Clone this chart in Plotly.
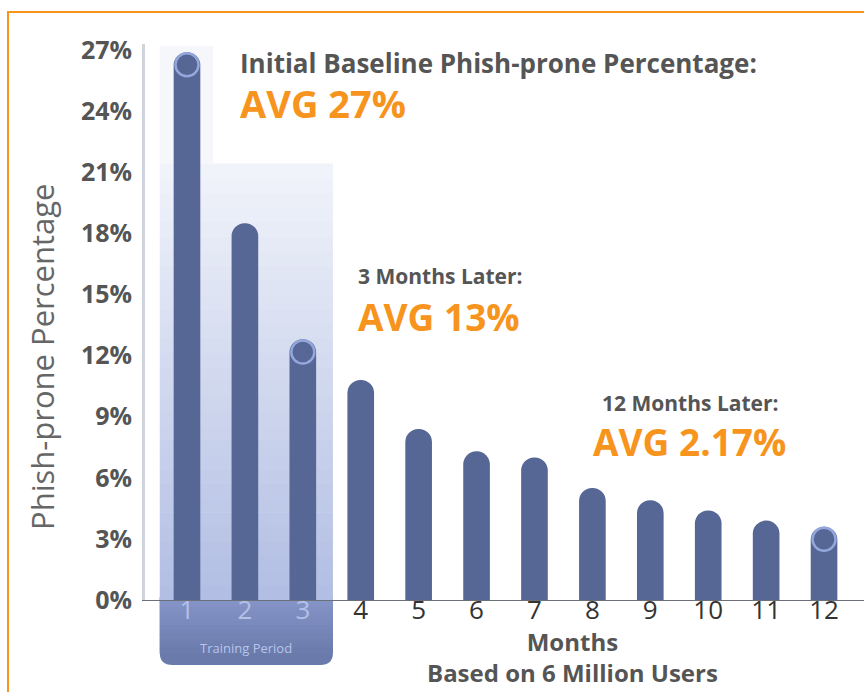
import plotly.graph_objects as go

months = list(range(1, 13))
month_labels = [str(m) for m in months]
phish_prone = [26.9, 18.5, 12.8, 10.8, 8.4, 7.3, 7.0, 5.5, 4.9, 4.4, 3.9, 3.6]
highlight_months = [1, 3, 12]
y_ticks = [0, 3, 6, 9, 12, 15, 18, 21, 24, 27]
y_tick_labels = [f"{v}%" for v in y_ticks]
training_months = [1, 2, 3]

BAR = "rgb(86,102,149)"
ORANGE = "#f7941d"
GRAY = "#555555"
FONT = "Open Sans"

W, H = 864, 692
L, R, T, B = 145, 0, 44, 92
PW, PH = W - L - R, H - T - B


def xp(px):
    return (px - L) / PW


def yp(py):
    return (H - B - py) / PH


def lerp(c0, c1, t):
    return "rgb(%d,%d,%d)" % tuple(round(a + (b - a) * t) for a, b in zip(c0, c1))


fig = go.Figure()

fig.add_trace(go.Bar(
    x=months, y=phish_prone, width=0.46,
    marker=dict(color=BAR, cornerradius="50%", line=dict(width=0)),
    hoverinfo="skip", showlegend=False,
))

hl_y = [phish_prone[m - 1] - 0.62 for m in highlight_months]
fig.add_trace(go.Scatter(
    x=highlight_months, y=hl_y, mode="markers",
    marker=dict(size=23, color=BAR, line=dict(color="#93a7dc", width=2.5)),
    hoverinfo="skip", showlegend=False, cliponaxis=False,
))

tick_text = []
for m, lab in zip(months, month_labels):
    if m in training_months:
        tick_text.append(f"<span style='color:#b3c0e8'>{lab}</span>")
    else:
        tick_text.append(lab)

shapes = []
# training-period backdrop: vertical gradient built from thin bands
bottom_c, top_c = (178, 190, 227), (240, 243, 250)
n = 30
top_v = 21.4
for i in range(n):
    y0 = top_v * i / n
    y1 = top_v * (i + 1) / n
    shapes.append(dict(type="rect", xref="x", yref="y", layer="below",
                       x0=0.53, x1=3.52, y0=y0, y1=y1 + 0.03,
                       fillcolor=lerp(bottom_c, top_c, i / (n - 1)), line=dict(width=0)))
# faint column behind bar 1
shapes.append(dict(type="rect", xref="x", yref="y", layer="below",
                   x0=0.53, x1=1.45, y0=top_v, y1=27.2,
                   fillcolor="#f6f7fb", line=dict(width=0)))
# training box below axis (rounded bottom), then gradient bands on top part
shapes.append(dict(type="path", xref="x", yref="paper", layer="below",
                   path="M 0.53,0.005 L 3.52,0.005 L 3.52,-0.095 Q 3.52,-0.117 3.3,-0.117 "
                        "L 0.75,-0.117 Q 0.53,-0.117 0.53,-0.095 Z",
                   fillcolor="rgb(106,122,171)", line=dict(width=0)))
box_top_c, box_bot_c = (134, 149, 200), (108, 124, 173)
nb = 12
for i in range(nb):
    y1 = 0.005 - 0.1 * i / nb
    y0 = 0.005 - 0.1 * (i + 1) / nb
    shapes.append(dict(type="rect", xref="x", yref="paper", layer="below",
                       x0=0.53, x1=3.52, y0=y0 - 0.001, y1=y1,
                       fillcolor=lerp(box_top_c, box_bot_c, i / (nb - 1)), line=dict(width=0)))
# orange frame
shapes.append(dict(type="rect", xref="paper", yref="paper",
                   x0=xp(8), x1=xp(900), y0=yp(720), y1=yp(12),
                   line=dict(color=ORANGE, width=2), fillcolor="rgba(0,0,0,0)", layer="above"))


def label(text, x, y, size, color, bold=True, anchor="left"):
    return dict(text=text, x=xp(x), y=yp(y), xref="paper", yref="paper",
                xanchor=anchor, yanchor="middle", showarrow=False,
                font=dict(family=FONT, size=size, color=color,
                          weight="bold" if bold else "normal"))


annotations = [
    label("Initial Baseline Phish-prone Percentage:", 238, 63, 26, GRAY),
    label("AVG 27%", 238, 103, 38, ORANGE),
    label("3 Months Later:", 356, 276, 21, GRAY),
    label("AVG 13%", 356, 316, 37, ORANGE),
    label("12 Months Later:", 600, 403, 21, GRAY),
    label("AVG 2.17%", 591, 441, 37, ORANGE),
    label("Training Period", 246, 648, 13, "#b8c4ea", bold=False, anchor="center"),
    label("Months<br>Based on 6 Million Users", 572, 657, 24, GRAY, anchor="center"),
    dict(text="Phish-prone Percentage", x=xp(42), y=yp(357), xref="paper", yref="paper",
         xanchor="center", yanchor="middle", showarrow=False, textangle=-90,
         font=dict(family=FONT, size=31, color="#666666")),
]

fig.update_layout(
    width=W, height=H,
    margin=dict(l=L, r=R, t=T, b=B),
    paper_bgcolor="white", plot_bgcolor="rgba(0,0,0,0)",
    shapes=shapes, annotations=annotations,
    xaxis=dict(range=[0.275, 12.69], tickvals=months, ticktext=tick_text,
               showgrid=False, zeroline=False, showline=True, linecolor="#6b6f78", linewidth=1,
               ticks="", ticklabelstandoff=-13,
               tickfont=dict(family=FONT, size=26, color="#333333"),
               fixedrange=True),
    yaxis=dict(range=[0, 27.3], tickvals=y_ticks, ticktext=y_tick_labels,
               showgrid=False, zeroline=False, showline=True, linecolor="#cfd3dc", linewidth=3,
               ticks="", ticklabelstandoff=5,
               tickfont=dict(family=FONT, size=25, color=GRAY, weight="bold"),
               fixedrange=True),
)

fig.write_html("out.html", config={"displayModeBar": False},
               post_script="document.body.style.margin='0';")
